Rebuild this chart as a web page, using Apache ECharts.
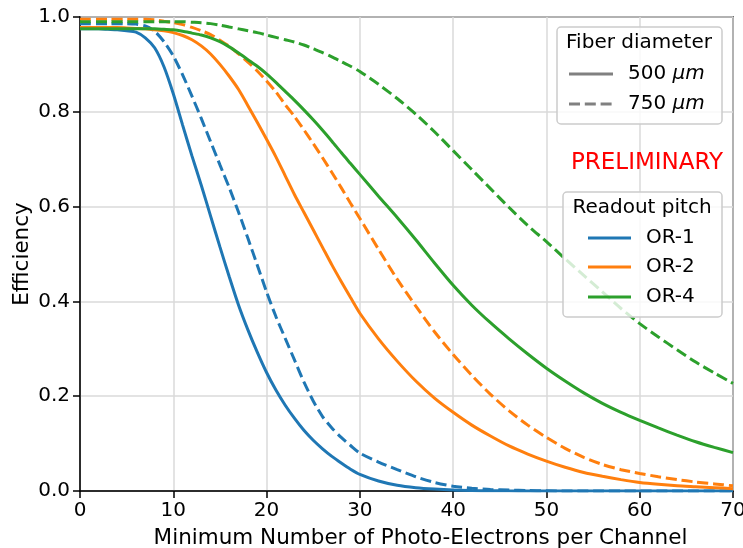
<!DOCTYPE html>
<html>
<head>
<meta charset="utf-8">
<script src="https://cdn.jsdelivr.net/npm/echarts@6/dist/echarts.min.js"></script>
<style>html,body{margin:0;padding:0;background:#fff}#c{width:743px;height:548px}</style>
</head>
<body>
<div id="c"></div>
<script>
// ---- data ----
const xs = [0,1,2,3,4,5,6,7,8,9,10,11,12,13,14,15,16,17,18,19,20,21,22,23,24,25,26,27,28,29,30,
  32,34,36,38,40,42,44,46,48,50,52,54,56,58,60,62,64,66,68,70];
const or1_500 = [0.975,0.975,0.975,0.974,0.973,0.971,0.968,0.956,0.935,0.895,0.838,0.772,0.707,0.645,0.580,0.515,0.452,0.392,0.340,0.293,0.250,0.213,0.181,0.153,0.128,0.107,0.089,0.073,0.059,0.046,0.035,
  0.021,0.012,0.007,0.004,0.002,0.001,0.0006,0.0003,0.0002,0.0001,0,0,0,0,0,0,0,0,0,0];
const or1_750 = [0.986,0.986,0.986,0.986,0.986,0.986,0.985,0.981,0.970,0.948,0.918,0.878,0.833,0.786,0.737,0.688,0.640,0.588,0.533,0.477,0.420,0.368,0.322,0.276,0.230,0.190,0.157,0.133,0.113,0.096,0.080,
  0.061,0.045,0.030,0.018,0.010,0.006,0.003,0.002,0.001,0.0005,0,0,0,0,0,0,0,0,0,0];
const or2_500 = [0.978,0.978,0.978,0.978,0.978,0.977,0.976,0.975,0.973,0.971,0.967,0.961,0.952,0.939,0.922,0.900,0.875,0.847,0.813,0.778,0.742,0.705,0.665,0.625,0.588,0.551,0.514,0.477,0.442,0.408,0.375,
  0.321,0.274,0.232,0.196,0.166,0.139,0.116,0.095,0.078,0.063,0.050,0.039,0.031,0.024,0.018,0.014,0.011,0.009,0.007,0.005];
const or2_750 = [0.995,0.995,0.995,0.995,0.995,0.995,0.995,0.995,0.994,0.991,0.988,0.984,0.978,0.971,0.963,0.951,0.938,0.922,0.905,0.886,0.865,0.842,0.815,0.790,0.762,0.733,0.703,0.672,0.640,0.607,0.575,
  0.510,0.447,0.390,0.336,0.288,0.244,0.204,0.169,0.139,0.113,0.090,0.071,0.056,0.045,0.037,0.030,0.024,0.019,0.015,0.011];
const or4_500 = [0.975,0.975,0.975,0.975,0.975,0.975,0.975,0.975,0.975,0.974,0.973,0.970,0.966,0.962,0.956,0.948,0.937,0.924,0.910,0.896,0.880,0.862,0.843,0.824,0.804,0.783,0.761,0.738,0.714,0.691,0.668,
  0.622,0.577,0.530,0.481,0.434,0.392,0.355,0.321,0.289,0.259,0.232,0.207,0.185,0.166,0.149,0.133,0.118,0.104,0.092,0.081];
const or4_750 = [0.990,0.990,0.990,0.990,0.990,0.990,0.990,0.990,0.990,0.990,0.990,0.990,0.989,0.988,0.986,0.983,0.979,0.975,0.971,0.967,0.962,0.957,0.952,0.947,0.941,0.933,0.925,0.916,0.906,0.896,0.885,
  0.858,0.828,0.795,0.758,0.718,0.678,0.638,0.598,0.560,0.526,0.490,0.455,0.420,0.385,0.353,0.325,0.298,0.272,0.249,0.227];
const xTicks = [0,10,20,30,40,50,60,70];
const yTicks = [0.0,0.2,0.4,0.6,0.8,1.0];
const pitchNames = ['OR-1','OR-2','OR-4'];
const diameterNames = ['500 ', '750 '];
const unit = 'μm';
const colors = ['#1f77b4','#ff7f0e','#2ca02c'];

// ---- chart ----
const FONT = 'DejaVu Sans';
const chart = echarts.init(document.getElementById('c'), null, {renderer:'canvas'});
const pair = a => xs.map((x,i)=>[x,a[i]]);
const DASH = [11,4.8];
const mk = (name, arr, color, dashed) => ({
  name, type:'line', data: pair(arr), showSymbol:false, smooth:0.25, animation:false,
  lineStyle:{color, width:3, type: dashed ? DASH : 'solid', cap:'butt'}, z:3
});
const series = [
  mk('OR-1 500', or1_500, colors[0], false),
  mk('OR-1 750', or1_750, colors[0], true),
  mk('OR-2 500', or2_500, colors[1], false),
  mk('OR-2 750', or2_750, colors[1], true),
  mk('OR-4 500', or4_500, colors[2], false),
  mk('OR-4 750', or4_750, colors[2], true)
];

const LF = `20px "${FONT}"`;
const txt = (x,y,text,align,font,fill) => ({type:'text', x, y, z:101,
  style:{text, font: font||LF, fill: fill||'#000', textAlign: align||'left', textVerticalAlign:'middle'}});
const legendLine = (x1,x2,y,color,dashed) => ({type:'line', z:101,
  shape:{x1,y1:y,x2,y2:y}, style:{stroke:color, lineWidth:3, lineDash: dashed ? DASH : null}});
const unitText = (x,y,num) => ({type:'text', x, y, z:101, style:{
  rich:{a:{font:LF, fill:'#000'}, b:{font:`italic 20px "${FONT}"`, fill:'#000'}},
  text:`{a|${num}}{b|${unit}}`, textVerticalAlign:'middle'}});

const graphic = [
  {type:'rect', z:100, shape:{x:557, y:27, width:165, height:97, r:4},
   style:{fill:'rgba(255,255,255,0.8)', stroke:'#cccccc', lineWidth:1.5}},
  txt(639, 43, 'Fiber diameter', 'center'),
  legendLine(569, 613, 74, '#808080', false),
  legendLine(569, 613, 104, '#808080', true),
  unitText(628, 74, diameterNames[0]),
  unitText(628, 104, diameterNames[1]),
  txt(647, 163, 'PRELIMINARY', 'center', `23px "${FONT}"`, '#ff0000'),
  {type:'rect', z:100, shape:{x:563, y:192, width:159, height:125, r:4},
   style:{fill:'rgba(255,255,255,0.8)', stroke:'#cccccc', lineWidth:1.5}},
  txt(642, 208, 'Readout pitch', 'center'),
  legendLine(588, 631, 238, colors[0], false),
  legendLine(588, 631, 267, colors[1], false),
  legendLine(588, 631, 297, colors[2], false),
  txt(646, 238, pitchNames[0]),
  txt(646, 267, pitchNames[1]),
  txt(646, 297, pitchNames[2])
];

chart.setOption({
  backgroundColor:'#fff',
  animation:false,
  grid:{left:80, right:10, top:17, bottom:57, show:true, borderColor:'#000', borderWidth:1.5,
    backgroundColor:'transparent', containLabel:false, outerBoundsMode:'none'},
  xAxis:{type:'value', min:xTicks[0], max:xTicks[xTicks.length-1], interval:10,
    name:'Minimum Number of Photo-Electrons per Channel', nameLocation:'middle', nameGap:36,
    nameMoveOverlap:false,
    nameTextStyle:{fontFamily:FONT, fontSize:21.5, color:'#000', padding:[0,0,0,28]},
    axisLine:{show:true, lineStyle:{color:'#000', width:1.5}},
    axisTick:{show:true, inside:false, length:7, lineStyle:{color:'#000', width:1.5}},
    axisLabel:{fontFamily:FONT, fontSize:20, color:'#000', margin:10, formatter:v=>String(v)},
    splitLine:{show:true, lineStyle:{color:'#dadada', width:1.5}}},
  yAxis:{type:'value', min:yTicks[0], max:yTicks[yTicks.length-1], interval:0.2,
    name:'Efficiency', nameLocation:'middle', nameGap:47, nameMoveOverlap:false,
    nameTextStyle:{fontFamily:FONT, fontSize:21.5, color:'#000'},
    axisLine:{show:true, lineStyle:{color:'#000', width:1.5}},
    axisTick:{show:true, inside:false, length:7, lineStyle:{color:'#000', width:1.5}},
    axisLabel:{fontFamily:FONT, fontSize:20, color:'#000', margin:10, formatter:v=>v.toFixed(1)},
    splitLine:{show:true, lineStyle:{color:'#dadada', width:1.5}}},
  series,
  graphic
});
</script>
</body>
</html>
